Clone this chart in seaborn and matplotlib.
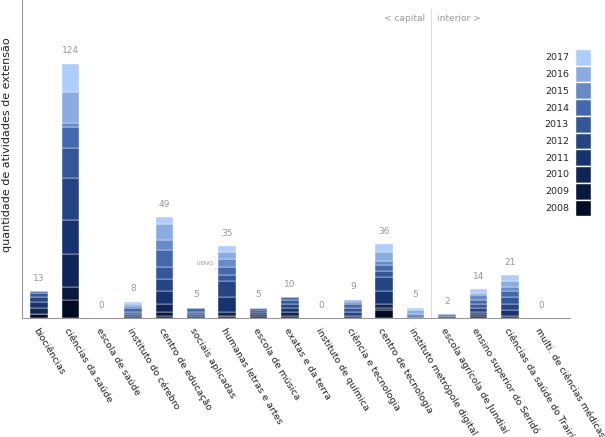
import numpy as np
import matplotlib
matplotlib.use("Agg")
import matplotlib.pyplot as plt
from matplotlib.patches import Patch
import seaborn as sns

# units, in display order (capital first, then interior campuses)
unidades = [
    "biociências", "ciências da saúde", "escola de saúde", "instituto do cérebro",
    "centro de educação", "sociais aplicadas", "humanas letras e artes",
    "escola de música", "exatas e da terra", "instituto de química",
    "ciência e tecnologia", "centro de tecnologia", "instituto metrópole digital",
    "escola agrícola de Jundiaí", "ensino superior do Seridó",
    "ciências da saúde do Trairí", "multi. de ciências médicas",
]
anos = [2008, 2009, 2010, 2011, 2012, 2013, 2014, 2015, 2016, 2017]

# activities per year (rows = unit, columns = 2008..2017)
ativ_biociencias = [2, 0, 3, 3, 2, 2, 1, 0, 0, 0]
ativ_ciencias_saude = [9, 6, 16, 17, 20, 15, 10, 2, 15, 14]
ativ_escola_saude = [0, 0, 0, 0, 0, 0, 0, 0, 0, 0]
ativ_cerebro = [0, 0, 0, 1, 1, 1, 2, 1, 1, 1]
ativ_educacao = [1, 2, 4, 6, 6, 6, 8, 5, 8, 3]
ativ_sociais = [0, 0, 0, 1, 1, 1, 2, 0, 0, 0]
ativ_humanas = [1, 0, 2, 7, 8, 3, 4, 4, 3, 3]
ativ_musica = [0, 1, 1, 1, 1, 1, 0, 0, 0, 0]
ativ_exatas = [0, 1, 2, 2, 2, 2, 1, 0, 0, 0]
ativ_quimica = [0, 0, 0, 0, 0, 0, 0, 0, 0, 0]
ativ_cet = [0, 0, 0, 1, 2, 2, 2, 1, 1, 0]
ativ_tecnologia = [4, 1, 2, 6, 7, 3, 3, 2, 4, 4]
ativ_imd = [0, 0, 0, 0, 0, 0, 0, 2, 2, 1]
ativ_eaj = [0, 0, 0, 0, 1, 0, 1, 0, 0, 0]
ativ_serido = [0, 1, 1, 1, 2, 2, 2, 2, 1, 2]
ativ_trairi = [0, 0, 1, 3, 3, 3, 3, 2, 3, 3]
ativ_multi = [0, 0, 0, 0, 0, 0, 0, 0, 0, 0]

tabela = np.array([
    ativ_biociencias, ativ_ciencias_saude, ativ_escola_saude, ativ_cerebro,
    ativ_educacao, ativ_sociais, ativ_humanas, ativ_musica, ativ_exatas,
    ativ_quimica, ativ_cet, ativ_tecnologia, ativ_imd, ativ_eaj,
    ativ_serido, ativ_trairi, ativ_multi,
])
totais = [13, 124, 0, 8, 49, 5, 35, 5, 10, 0, 9, 36, 5, 2, 14, 21, 0]

sns.set_style("white")
cores = sns.blend_palette(["#020b24", "#163370", "#4468ad", "#aecdfb"], n_colors=len(anos))

fig = plt.figure(figsize=(6.05, 4.37), dpi=100)
ax = fig.add_axes([22 / 605, 1 - 318 / 437, 548 / 605, 318 / 437])

x = np.arange(len(unidades))
base = np.zeros(len(unidades))
for i, ano in enumerate(anos):
    ax.bar(x, tabela[:, i], bottom=base, width=0.56, color=cores[i],
           edgecolor="#ffffff", linewidth=0.3, label=str(ano))
    base += tabela[:, i]

for xi, t in zip(x, totais):
    ax.annotate(str(t), (xi, t), xytext=(0, 6), textcoords="offset points",
                ha="center", va="bottom", fontsize=6.5, color="#999999")

# LIBRAS note beside the humanas bar
ax.annotate("LIBRAS", xy=(5.66, 23.5), xytext=(5.3, 25.5), fontsize=3.5,
            color="#999999", ha="center", va="bottom",
            arrowprops=dict(arrowstyle="-", color="#aaaaaa", lw=0.4))

# capital / interior divider
ax.axvline(12.5, color="#dddddd", lw=0.7, ymin=0, ymax=0.975)
ax.text(12.32, 146, "< capital", ha="right", va="center", fontsize=6.5, color="#999999")
ax.text(12.68, 146, "interior >", ha="left", va="center", fontsize=6.5, color="#999999")

ax.set_xlim(-0.54, 16.92)
ax.set_ylim(0, 155)
ax.set_xticks(x)
ax.set_xticklabels(unidades, rotation=-59, ha="left", rotation_mode="anchor",
                   fontsize=6.8, color="#222222")
ax.tick_params(axis="x", length=0, pad=6)
ax.set_yticks([])
ax.set_ylabel("quantidade de atividades de extensão", fontsize=8, color="#222222")
ax.yaxis.set_label_coords(-0.019, 0.545)
sns.despine(ax=ax, top=True, right=True)
for s in ("left", "bottom"):
    ax.spines[s].set_color("#999999")
    ax.spines[s].set_linewidth(0.8)

handles = [Patch(facecolor=cores[i], label=str(a)) for i, a in enumerate(anos)][::-1]
fig.legend(handles=handles, loc="upper right", bbox_to_anchor=(591 / 605, 1 - 49 / 437),
           frameon=False, markerfirst=False, handlelength=1.65, handleheight=2.35,
           labelspacing=0, fontsize=6.8, handletextpad=0.7, borderpad=0, borderaxespad=0)

fig.savefig("out.png", dpi=100)
